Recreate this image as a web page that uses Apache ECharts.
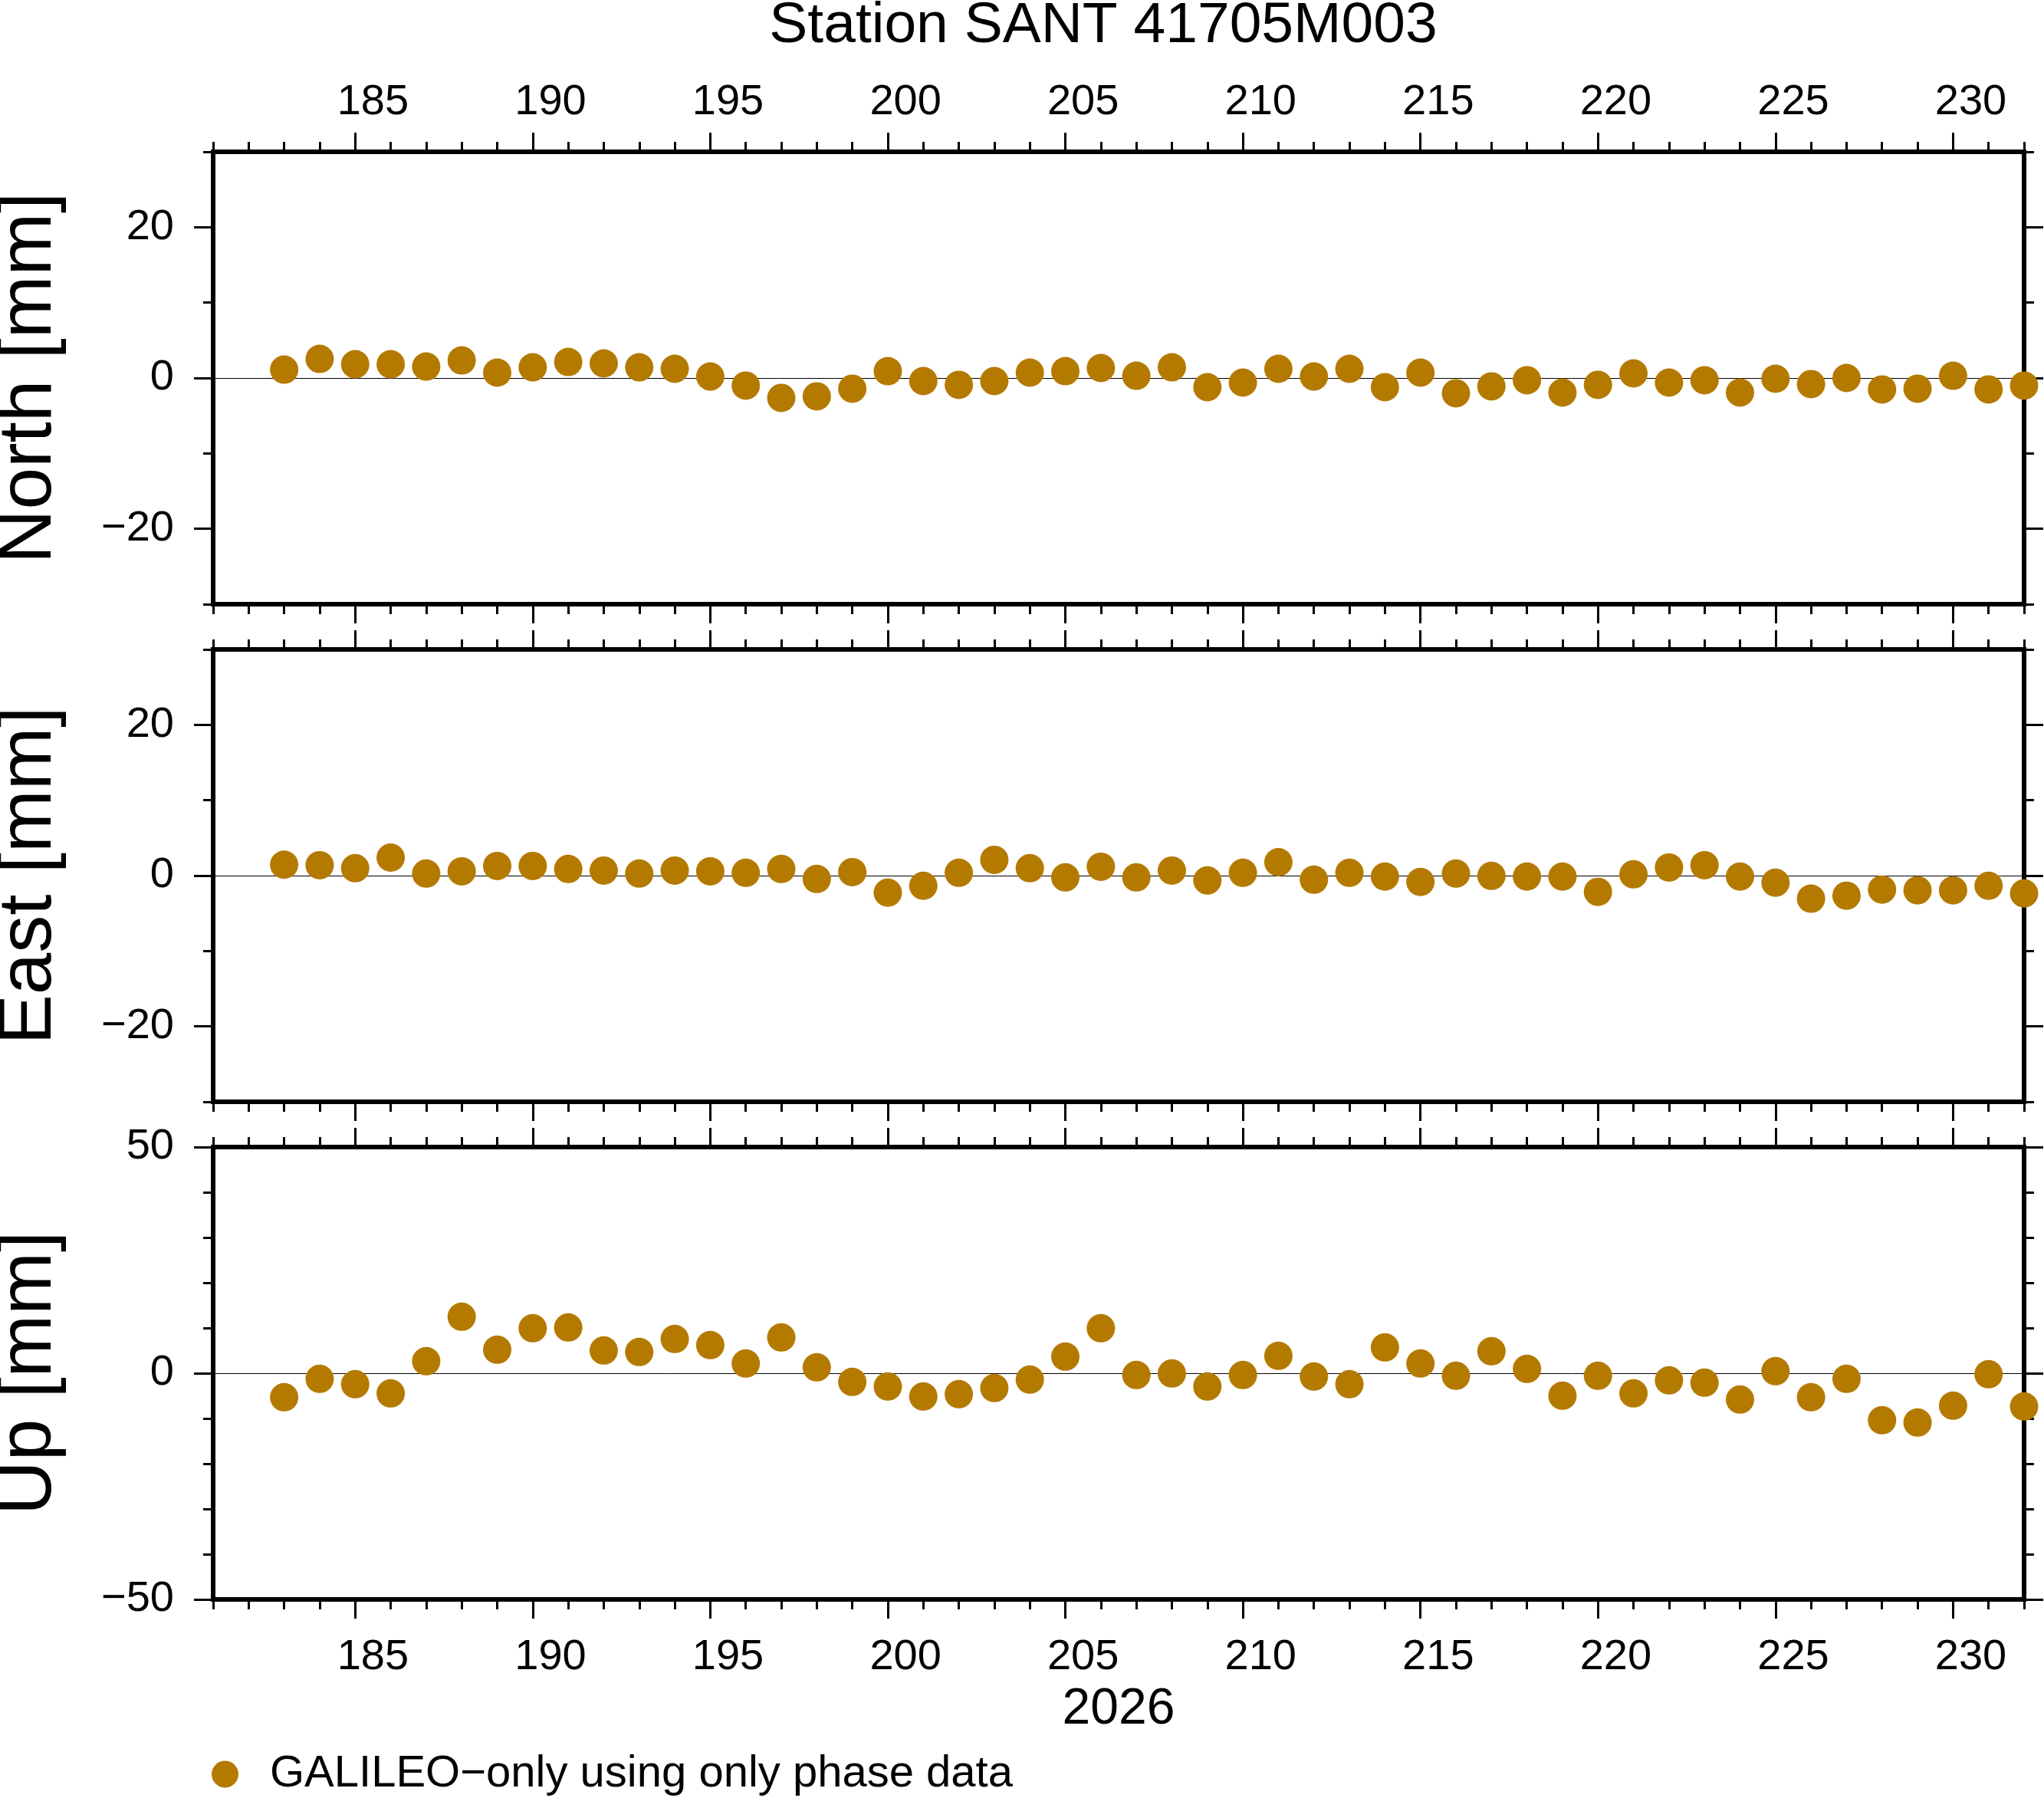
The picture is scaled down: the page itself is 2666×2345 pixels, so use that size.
<!DOCTYPE html>
<html>
<head>
<meta charset="utf-8">
<script src="https://cdn.jsdelivr.net/npm/echarts@6/dist/echarts.min.js"></script>
<style>html,body{margin:0;padding:0;background:#fff}#c{width:2666px;height:2345px}</style>
</head>
<body>
<div id="c"></div>
<script>
// ---- data (day of year 2026, offsets in mm) ----
const days = [183,184,185,186,187,188,189,190,191,192,193,194,195,196,197,198,199,200,201,202,203,204,205,206,207,
              208,209,210,211,212,213,214,215,216,217,218,219,220,221,222,223,224,225,226,227,228,229,230,231,232];
const north = [1.11,2.53,1.82,1.82,1.52,2.33,0.71,1.42,2.13,1.93,1.42,1.22,0.20,-1.01,-2.64,-2.43,-1.42,0.91,-0.41,-0.91,-0.41,0.71,0.91,1.32,0.30,
               1.42,-1.22,-0.61,1.22,0.20,1.22,-1.22,0.71,-2.03,-1.11,-0.30,-1.93,-0.91,0.61,-0.61,-0.30,-1.93,-0.10,-0.81,0.00,-1.52,-1.42,0.30,-1.52,-1.01];
const east = [1.45,1.38,0.98,2.39,0.27,0.57,1.28,1.28,0.88,0.67,0.27,0.67,0.57,0.37,0.88,-0.44,0.47,-2.26,-1.35,0.37,2.09,0.98,-0.24,1.18,-0.24,
              0.67,-0.64,0.37,1.78,-0.54,0.37,-0.13,-0.84,0.27,-0.03,-0.13,-0.13,-2.15,0.17,1.08,1.38,-0.13,-0.94,-3.06,-2.66,-1.85,-1.95,-1.95,-1.35,-2.36];
const up = [-5.31,-1.24,-2.43,-4.46,2.66,12.49,5.20,9.94,10.11,5.03,4.69,7.57,6.21,2.15,7.91,1.30,-1.92,-2.94,-5.14,-4.63,-3.28,-1.41,3.67,9.94,-0.40,
            -0.06,-2.94,-0.40,3.84,-0.73,-2.43,5.71,2.15,-0.56,4.86,0.96,-4.97,-0.56,-4.46,-1.58,-2.09,-5.82,0.45,-5.31,-1.24,-10.40,-10.90,-7.18,-0.23,-7.34];
const majorDays = [185,190,195,200,205,210,215,220,225,230];
const dayLabels = ['185','190','195','200','205','210','215','220','225','230'];
const neLabels = [-20,0,20];
const upLabels = [-50,0,50];
const titleText = 'Station SANT 41705M003';
const yearLabel = '2026';
const seriesName = 'GALILEO\u2212only using only phase data';

// ---- styling / layout ----
const font = 'Liberation Sans';
const black = '#000';
const dot = '#b47a00';
const tickStyle = {color: black, width: 3};
const fmt = v => v < 0 ? '\u2212' + Math.abs(v) : String(v);
const labelPos = majorDays.map(d => d + 0.5); // GMT centers day annotations in the interval

const panels = [
  {name: 'North [mm]', data: north, min: -30, max: 30, step: 10, split: 30, labels: neLabels, top: 198, xlab: 'top'},
  {name: 'East [mm]',  data: east,  min: -30, max: 30, step: 10, split: 30, labels: neLabels, top: 847, xlab: null},
  {name: 'Up [mm]',    data: up,    min: -50, max: 50, step: 10, split: 50, labels: upLabels, top: 1496, xlab: 'bottom'}
];

const grid = [], xAxis = [], yAxis = [], series = [];
panels.forEach((p, i) => {
  grid.push({left: 278, top: p.top, width: 2362, height: 590, show: true, outerBoundsMode: 'none',
             containLabel: false, borderColor: black, borderWidth: 6, backgroundColor: 'transparent'});
  ['top', 'bottom'].forEach(pos => {
    const lab = p.xlab === pos;
    xAxis.push({type: 'value', gridIndex: i, position: pos, min: 181, max: 232, interval: 1,
      axisLine: {show: false, onZero: false},
      axisTick: {show: true, length: 13, lineStyle: tickStyle},
      axisLabel: {show: false}, splitLine: {show: false}});
    xAxis.push({type: 'value', gridIndex: i, position: pos, min: 181, max: 232, interval: 1,
      axisLine: {show: false, onZero: false},
      axisTick: {show: true, customValues: majorDays, length: 25, lineStyle: tickStyle},
      axisLabel: {show: lab, customValues: labelPos,
        formatter: v => dayLabels[majorDays.indexOf(Math.floor(v))] || '',
        fontSize: 56, fontFamily: font, color: black, margin: pos === 'top' ? 36 : 48},
      splitLine: {show: false},
      name: (lab && pos === 'bottom') ? yearLabel : '', nameLocation: 'middle', nameGap: 111,
      nameTextStyle: {fontSize: 66, fontFamily: font, color: black}});
  });
  ['left', 'right'].forEach(pos => {
    const left = pos === 'left';
    yAxis.push({type: 'value', gridIndex: i, position: pos, min: p.min, max: p.max, interval: p.step,
      axisLine: {show: false, onZero: false},
      axisTick: {show: true, length: 13, lineStyle: tickStyle},
      axisLabel: {show: false}, splitLine: {show: false}});
    yAxis.push({type: 'value', gridIndex: i, position: pos, min: p.min, max: p.max, interval: p.step,
      axisLine: {show: false, onZero: false},
      axisTick: {show: true, customValues: p.labels, length: 25, lineStyle: tickStyle},
      axisLabel: {show: left, customValues: p.labels, formatter: fmt,
        fontSize: 56, fontFamily: font, color: black, margin: 51},
      splitLine: {show: false},
      name: left ? p.name : '', nameLocation: 'middle', nameRotate: 90, nameGap: 190,
      nameTextStyle: {fontSize: 98, fontFamily: font, color: black}});
  });
  // zero reference line (split lines at min / 0 / max; edges hidden under the frame)
  yAxis.push({type: 'value', gridIndex: i, position: 'left', min: p.min, max: p.max, interval: p.split,
    axisLine: {show: false, onZero: false}, axisTick: {show: false}, axisLabel: {show: false},
    splitLine: {show: true, lineStyle: {color: black, width: 1}}});
  series.push({type: 'scatter', name: seriesName, xAxisIndex: i * 4, yAxisIndex: i * 5,
    data: days.map((d, k) => [d, p.data[k]]),
    symbol: 'circle', symbolSize: 37, itemStyle: {color: dot, opacity: 1}, clip: false, silent: true, z: 3});
});

const chart = echarts.init(document.getElementById('c'));
chart.setOption({
  animation: false,
  backgroundColor: '#fff',
  title: {text: titleText, left: 1439, top: -3, textAlign: 'center', padding: 0,
          textStyle: {fontSize: 75, fontWeight: 'normal', fontFamily: font, color: black}},
  legend: {data: [seriesName], left: 276, top: 2285, padding: 0, itemWidth: 35, itemHeight: 35,
           icon: 'circle', selectedMode: false, itemStyle: {opacity: 1},
           textStyle: {fontSize: 58, fontFamily: font, color: black, padding: [0, 0, 0, 36]}},
  grid, xAxis, yAxis, series
});
</script>
</body>
</html>
